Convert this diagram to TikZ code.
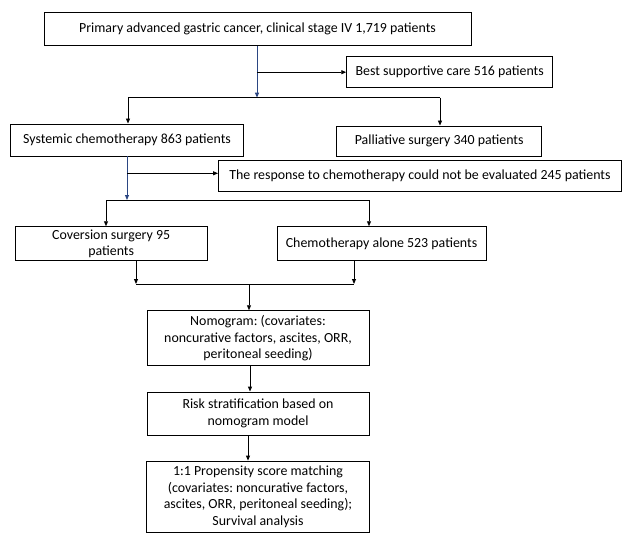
\documentclass[tikz,border=0pt]{standalone}
\usepackage{fontspec}
\setmainfont{Carlito}
\usepackage{tikz}
\usetikzlibrary{arrows.meta,positioning,calc}
\definecolor{flowblue}{HTML}{2B4682}
\frenchspacing

\begin{document}
\begin{tikzpicture}[
  x=1pt, y=-1pt,
  box/.style={draw,line width=0.9pt,align=center,inner sep=2pt,font=\fontsize{13.9}{16.6}\selectfont},
  arr/.style={-{Triangle[length=5pt,width=4pt]},line width=0.9pt},
  bluearr/.style={arr,draw=flowblue}
]
\useasboundingbox (0,0) rectangle (630,551);
% boxes
\node[box,minimum width=427pt,minimum height=33pt] (prim) at (257.5,29.3) {Primary advanced gastric cancer, clinical stage IV 1,719 patients};
\node[box,minimum width=206pt,minimum height=31pt] (bsc) at (449.7,72.2) {Best supportive care 516 patients};
\node[box,minimum width=233pt,minimum height=32pt] (sys) at (127,140) {Systemic chemotherapy 863 patients};
\node[box,minimum width=205pt,minimum height=30pt] (pal) at (439.2,141) {Palliative surgery 340 patients};
\node[box,minimum width=403pt,minimum height=31.5pt] (resp) at (420,175.8) {The response to chemotherapy could not be evaluated 245 patients};
\node[box,minimum width=192pt,minimum height=34pt] (conv) at (111.2,243.7) {Coversion surgery 95\\patients};
\node[box,minimum width=209pt,minimum height=34pt] (alone) at (381.5,243.7) {Chemotherapy alone 523 patients};
\node[box,minimum width=222pt,minimum height=55pt] (nomo) at (258,338.2) {Nomogram: (covariates:\\noncurative factors, ascites, ORR,\\peritoneal seeding)};
\node[box,minimum width=222pt,minimum height=43pt] (risk) at (258,413.5) {Risk stratification based on\\nomogram model};
\node[box,minimum width=223pt,minimum height=71.5pt] (psm) at (258,496.8) {1:1 Propensity score matching\\(covariates: noncurative factors,\\ascites, ORR, peritoneal seeding);\\Survival analysis};
% junctions
\coordinate (j1) at (257,97.7);
\coordinate (a1) at (128,97.7);
\coordinate (a2) at (440,97.7);
\coordinate (j2) at (127,200);
\coordinate (b1) at (106,200);
\coordinate (b2) at (369,200);
\coordinate (m1) at (136,284);
\coordinate (m2) at (354,284);
\coordinate (j3) at (249,284);
% first split
\draw[bluearr] (prim.south -| j1) -- (j1);
\draw[arr] (j1 |- bsc.west) -- (bsc.west);
\draw[line width=0.9pt] (a1) -- (a2);
\draw[arr] (a1) -- (sys.north -| a1);
\draw[arr] (a2) -- (pal.north -| a2);
% second split
\draw[bluearr] (sys.south) -- (j2);
\draw[arr] (j2 |- 0,173.3) -- (resp.west |- 0,173.3);
\draw[line width=0.9pt] (b1) -- (b2);
\draw[arr] (b1) -- (conv.north -| b1);
\draw[arr] (b2) -- (alone.north -| b2);
% merge
\draw[arr] (conv.south -| m1) -- (m1);
\draw[arr] (alone.south -| m2) -- (m2);
\draw[line width=0.9pt] (m1) -- (m2);
\draw[arr] (j3) -- (nomo.north -| j3);
\draw[arr] ([xshift=-8pt]nomo.south) -- ([xshift=-8pt]risk.north);
\draw[arr] ([xshift=-10pt]risk.south) -- ([xshift=-10pt]psm.north);
\end{tikzpicture}
\end{document}
